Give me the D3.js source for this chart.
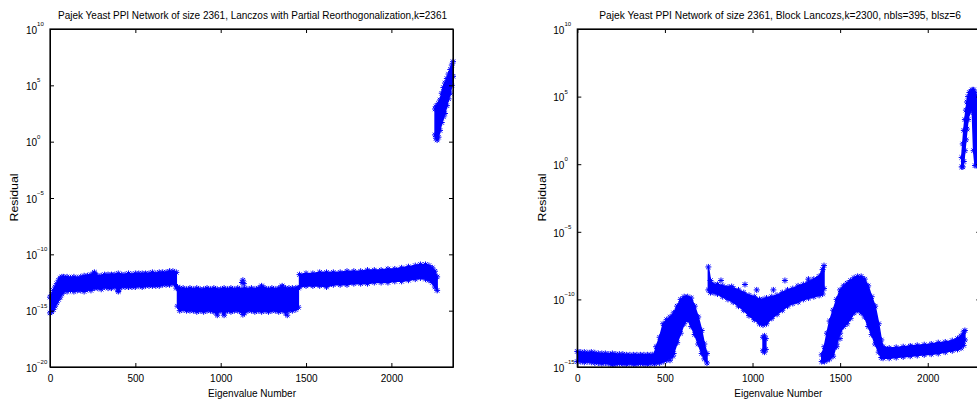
<!DOCTYPE html>
<html>
<head>
<meta charset="utf-8">
<script src="https://cdn.jsdelivr.net/npm/d3@7"></script>
<style>
  body { margin: 0; background: #fff; }
  text { font-family: 'Liberation Sans', Arial, Helvetica, sans-serif; fill: #000; }
</style>
</head>
<body>
<div id="container"></div>
<script>
const w = 977,
  h = 403;

// ---- data (residuals as log10 exponents) ----
// each panel: eigenvalue index, top and bottom of the scatter band; null splits the bands
const xTicks = [0, 500, 1000, 1500, 2000];

const leftIdx = [
  0, 10, 20, 30, 40, 50, 60, 70, 80, 100, 120, 140, 160, 180, 200, 220, 240, 260, 280, 300,
  320, 340, 360, 380, 400, 420, 440, 460, 480, 500, 520, 540, 560, 580, 600, 620, 640, 660, 680, 700,
  720, 740, null,
  747, 760, 780, 800, 820, 840, 860, 880, 900, 920, 940, 960, 980, 1000, 1020, 1040, 1060, 1080, 1100, 1120,
  1140, 1160, 1180, 1200, 1220, 1240, 1260, 1280, 1300, 1320, 1340, 1360, 1380, 1400, 1420, 1440, 1455, null,
  1462, 1500, 1540, 1580, 1620, 1660, 1700, 1740, 1780, 1820, 1860, 1900, 1940, 1980, 2020, 2060, 2100, 2140,
  2170, 2200, 2220, 2240, 2255, 2268, null,
  2256, 2262, 2268, 2276, 2285, 2295, 2305, 2314, 2325, 2335, 2345, 2354, 2361
];
const leftHi = [
  -13.8, -13.6, -13.2, -12.9, -12.6, -12.3, -12.1, -12.0, -12.0, -12.0, -12.1, -12.0, -12.1, -12.0, -11.9, -11.9, -11.8, -11.7, -11.9, -11.9,
  -11.8, -11.8, -11.8, -11.8, -11.7, -11.8, -11.8, -11.7, -11.8, -11.7, -11.7, -11.7, -11.7, -11.7, -11.6, -11.7, -11.6, -11.6, -11.6, -11.5,
  -11.5, -11.6, null,
  -12.9, -13.0, -13.0, -13.1, -13.0, -13.1, -13.0, -13.1, -13.1, -13.0, -13.1, -13.0, -13.1, -13.1, -13.0, -13.1, -13.0, -13.1, -13.0, -13.1,
  -13.0, -13.1, -13.0, -13.1, -13.0, -12.9, -13.0, -13.1, -13.0, -13.1, -13.0, -12.9, -13.0, -13.0, -13.0, -13.0, -13.0, null,
  -11.8, -11.7, -11.7, -11.6, -11.6, -11.6, -11.6, -11.5, -11.5, -11.5, -11.4, -11.4, -11.4, -11.3, -11.3, -11.2, -11.1, -11.0,
  -10.9, -10.9, -11.0, -11.2, -11.5, -12.0, null,
  2.9, 3.1, 3.2, 3.4, 3.7, 4.3, 4.8, 5.2, 5.6, 6.0, 6.4, 6.8, 7.1
];
const leftLo = [
  -15.2, -15.1, -14.9, -14.6, -14.3, -14.0, -13.8, -13.5, -13.3, -13.3, -13.2, -13.3, -13.2, -13.2, -13.3, -13.1, -13.2, -13.0, -13.0, -13.1,
  -12.9, -13.0, -13.0, -12.9, -13.2, -12.9, -12.9, -12.9, -12.9, -12.9, -12.8, -12.9, -12.8, -12.8, -12.8, -12.8, -12.8, -12.7, -12.7, -12.7,
  -12.6, -13.0, null,
  -14.6, -15.0, -14.9, -15.0, -15.0, -15.0, -15.1, -15.0, -15.1, -15.0, -15.0, -15.1, -15.2, -15.0, -15.2, -15.0, -15.1, -15.0, -15.0, -15.1,
  -15.2, -15.0, -15.0, -15.1, -15.0, -15.1, -15.0, -15.1, -15.0, -15.0, -15.1, -15.0, -15.2, -15.0, -15.0, -14.9, -14.7, null,
  -12.9, -12.8, -12.8, -12.8, -12.9, -12.7, -12.7, -12.7, -12.6, -12.6, -12.6, -12.5, -12.5, -12.5, -12.4, -12.4, -12.3, -12.2,
  -12.1, -12.2, -12.3, -12.5, -12.9, -13.2, null,
  0.6, 0.3, 0.15, 0.4, 1.0, 1.7, 2.2, 2.5, 3.2, 3.8, 4.3, 5.0, 5.8
];
// single stars standing out of the band
const leftOutIdx = [260, 1125, 1130, 1136, 980, 1020, 1130, 1240, 1360, 1390, 400];
const leftOutExp = [-11.6, -12.5, -12.3, -12.6, -15.4, -15.4, -15.35, -12.8, -12.8, -15.4, -13.3];

const rightIdx = [
  0, 20, 40, 60, 80, 100, 120, 140, 160, 180, 200, 220, 240, 260, 280, 300, 320, 340, 360, 380, 400, 420, 440,
  450, 470, 490, 510, 530, 550, 570, 590, 610, 630, 650, 670, 690, 710, 725, 740, null,
  748, 760, 780, 800, 830, 860, 890, 920, 950, 980, 1010, 1040, 1060, 1080, 1110, 1140, 1170, 1200, 1230, 1260,
  1290, 1320, 1350, 1380, 1400, 1408, null,
  1060, 1068, 1076, null,
  1395, 1410, 1425, 1440, 1460, 1480, 1500, 1520, 1540, 1560, 1580, 1600, 1620, 1640, 1660, 1680, 1700, 1720, 1735,
  1745, 1780, 1820, 1860, 1900, 1940, 1980, 2020, 2060, 2100, 2140, 2170, 2190, 2205, 2212, null,
  2194, 2200, 2206, 2212, 2218, 2224, 2230, 2238, 2246, 2254, 2262, 2270, 2280, 2290
];
const rightHi = [
  -13.85, -13.9, -13.9, -13.95, -13.9, -13.95, -14.0, -14.0, -14.0, -14.05, -14.0, -14.05, -14.05, -14.05, -14.1, -14.1, -14.1, -14.1, -14.1, -14.1, -14.1, -14.1, -14.05,
  -13.5, -12.8, -11.8, -11.5, -11.3, -11.0, -10.5, -10.0, -9.8, -9.8, -9.9, -10.5, -11.3, -12.3, -13.3, -14.0, null,
  -7.6, -8.6, -8.9, -8.9, -9.0, -9.1, -9.2, -9.3, -9.5, -9.7, -9.8, -10.0, -10.0, -9.9, -9.8, -9.7, -9.5, -9.3, -9.2, -9.0,
  -8.9, -8.7, -8.5, -8.3, -7.8, -7.5, null,
  -12.8, -12.7, -12.9, null,
  -14.1, -13.5, -12.5, -11.6, -10.8, -10.0, -9.3, -9.0, -8.8, -8.6, -8.4, -8.3, -8.3, -8.5, -9.0, -9.8, -10.5, -11.8, -13.0,
  -13.5, -13.6, -13.55, -13.5, -13.45, -13.4, -13.35, -13.3, -13.2, -13.15, -13.05, -12.9, -12.7, -12.4, -12.3, null,
  0.5, 1.5, 2.5, 3.3, 4.0, 4.6, 5.0, 5.3, 5.4, 5.5, 5.5, 5.3, 5.0, 4.8
];
const rightLo = [
  -14.6, -14.6, -14.65, -14.6, -14.65, -14.7, -14.7, -14.75, -14.7, -14.75, -14.85, -14.8, -14.75, -14.8, -14.8, -14.75, -14.8, -14.8, -14.75, -14.8, -14.8, -14.75, -14.75,
  -14.7, -14.7, -14.6, -14.5, -14.3, -14.0, -13.2, -12.5, -11.8, -11.5, -12.0, -12.6, -13.3, -14.0, -14.4, -14.7, null,
  -9.3, -9.5, -9.5, -9.6, -9.8, -10.0, -10.2, -10.5, -10.8, -11.2, -11.5, -11.8, -11.9, -11.8, -11.4, -11.1, -10.8, -10.5, -10.3, -10.2,
  -10.0, -9.9, -9.8, -9.7, -9.6, -9.2, null,
  -13.8, -13.9, -13.7, null,
  -14.6, -14.6, -14.5, -14.4, -14.2, -13.3, -12.5, -12.0, -11.8, -11.4, -11.0, -10.8, -11.0, -11.3, -12.0, -12.6, -13.3, -13.9, -14.3,
  -14.35, -14.35, -14.3, -14.25, -14.2, -14.15, -14.1, -14.05, -14.0, -13.9, -13.8, -13.7, -13.6, -13.4, -13.0, null,
  -0.2, -0.2, 0.2, 1.0, 1.8, 2.6, 3.3, 3.8, 4.0, 4.0, 1.0, -0.1, -0.1, -0.1
];
const rightOutIdx = [820, 881, 957, 1024, 1119, 1185, 1319, 529, 545, 1480, 1499, 1903];
const rightOutExp = [-8.6, -9.05, -8.9, -9.3, -9.3, -8.6, -8.5, -14.5, -14.2, -13.5, -12.9, -13.5];

// ---- drawing ----
const svg = d3.select('#container').append('svg').attr('width', w).attr('height', h);

const starPath = 'M-3,0H3M0,-3V3M-2.2,-2.2L2.2,2.2M-2.2,2.2L2.2,-2.2';

function drawPanel(p) {
  const x = d3.scaleLinear().domain([0, p.xMax]).range([p.left, p.right]);
  const y = d3.scaleLog().domain([Math.pow(10, p.yMinExp), Math.pow(10, p.yMaxExp)]).range([367, 29]);
  const yTicks = d3.range(p.yMinExp, p.yMaxExp + 1, 5).map((e) => Math.pow(10, e));

  const g = svg.append('g');

  // bands
  const rows = p.idx.map((d, i) => ({ i: d, hi: p.hi[i], lo: p.lo[i] }));
  const area = d3
    .area()
    .defined((d) => d.i !== null)
    .x((d) => x(d.i))
    .y0((d) => y(Math.pow(10, d.lo)))
    .y1((d) => y(Math.pow(10, d.hi)));
  g.append('path').attr('d', area(rows)).attr('fill', '#0000ff').attr('stroke', '#0000ff').attr('stroke-width', 1.5);

  // '*' markers along the band edges and the stray points
  const stars = [];
  rows.forEach((d) => {
    if (d.i === null) return;
    stars.push([d.i, d.hi], [d.i, d.lo]);
  });
  p.outIdx.forEach((d, i) => stars.push([d, p.outExp[i]]));
  g.selectAll('path.star')
    .data(stars)
    .enter()
    .append('path')
    .attr('class', 'star')
    .attr('d', starPath)
    .attr('transform', (d) => 'translate(' + x(d[0]) + ',' + y(Math.pow(10, d[1])) + ')')
    .attr('stroke', '#0000ff')
    .attr('stroke-width', 1)
    .attr('fill', 'none');

  // axes, ticks pointing inward on all four sides
  g.append('g')
    .attr('transform', 'translate(0,367)')
    .call(d3.axisBottom(x).tickValues(xTicks).tickFormat(d3.format('d')).tickSizeInner(-4).tickSizeOuter(0).tickPadding(7.5))
    .call((a) => a.selectAll('text').attr('font-size', 10));
  g.append('g')
    .attr('transform', 'translate(0,29)')
    .call(d3.axisTop(x).tickValues(xTicks).tickSizeInner(-4).tickSizeOuter(0).tickFormat(''));

  const yAxis = g
    .append('g')
    .attr('transform', 'translate(' + p.left + ',0)')
    .call(d3.axisLeft(y).tickValues(yTicks).tickSizeInner(-4).tickSizeOuter(0).tickFormat(''));
  yAxis.selectAll('.tick text').remove();
  yAxis
    .selectAll('.tick')
    .append('text')
    .attr('x', -24)
    .attr('y', 4.3)
    .attr('text-anchor', 'start')
    .attr('font-size', 10)
    .text('10');
  yAxis
    .selectAll('.tick')
    .append('text')
    .attr('x', -12.9)
    .attr('y', -3.5)
    .attr('text-anchor', 'start')
    .attr('font-size', 6)
    .text((d) => String(Math.round(Math.log10(d))).replace('-', '\u2212'));

  g.append('g')
    .attr('transform', 'translate(' + p.right + ',0)')
    .call(d3.axisRight(y).tickValues(yTicks).tickSizeInner(-4).tickSizeOuter(0).tickFormat(''));

  g.append('rect')
    .attr('x', p.left)
    .attr('y', 29)
    .attr('width', p.right - p.left)
    .attr('height', 338)
    .attr('fill', 'none')
    .attr('stroke', '#000')
    .attr('stroke-width', 1.2);

  g.append('text')
    .text(p.title)
    .attr('x', p.titleX)
    .attr('y', 19)
    .attr('font-size', 10.5)
    .attr('textLength', p.titleLen)
    .attr('lengthAdjust', 'spacingAndGlyphs');

  g.append('text')
    .text('Eigenvalue Number')
    .attr('x', p.xLabelX)
    .attr('y', 396.5)
    .attr('font-size', 10.5)
    .attr('textLength', 88)
    .attr('lengthAdjust', 'spacingAndGlyphs');

  g.append('text')
    .text('Residual')
    .attr('text-anchor', 'middle')
    .attr('transform', 'translate(' + (p.left - 31.8) + ',' + 197.5 + ') rotate(-90)')
    .attr('font-size', 11)
    .attr('textLength', 48)
    .attr('lengthAdjust', 'spacingAndGlyphs');
}

drawPanel({
  left: 50,
  right: 453,
  xMax: 2361,
  yMinExp: -20,
  yMaxExp: 10,
  idx: leftIdx,
  hi: leftHi,
  lo: leftLo,
  outIdx: leftOutIdx,
  outExp: leftOutExp,
  title: 'Pajek Yeast PPI Network of size 2361, Lanczos with Partial Reorthogonalization,k=2361',
  titleX: 58,
  titleLen: 389,
  xLabelX: 208
});

drawPanel({
  left: 577.3,
  right: 980.3,
  xMax: 2300,
  yMinExp: -15,
  yMaxExp: 10,
  idx: rightIdx,
  hi: rightHi,
  lo: rightLo,
  outIdx: rightOutIdx,
  outExp: rightOutExp,
  title: 'Pajek Yeast PPI Network of size 2361, Block Lancozs,k=2300, nbls=395, blsz=6',
  titleX: 599.3,
  titleLen: 361.7,
  xLabelX: 734.3
});
</script>
</body>
</html>
